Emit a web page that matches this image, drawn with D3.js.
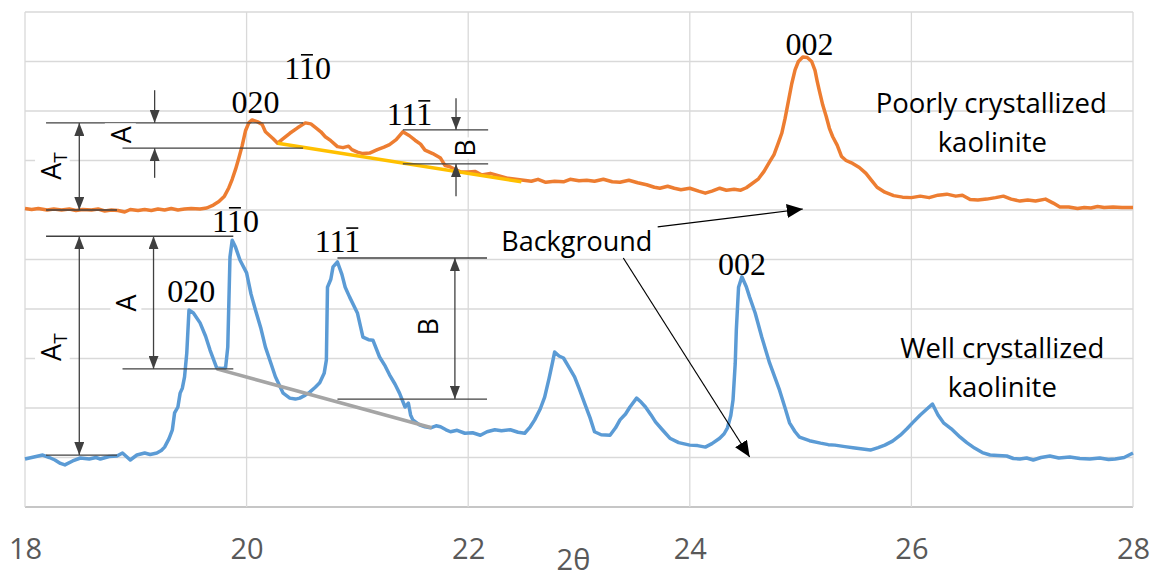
<!DOCTYPE html>
<html>
<head>
<meta charset="utf-8">
<script src="https://cdn.jsdelivr.net/npm/d3@7/dist/d3.min.js"></script>
<style>
body { margin: 0; background: #fff; }
svg { display: block; }
</style>
</head>
<body>
<div id="chart"></div>
<script>
// x ticks (2θ)
var xTicks = [18, 20, 22, 24, 26, 28];
var yGrid = [0, 1, 2, 3, 4, 5, 6, 7, 8, 9, 10];

// poorly crystallized kaolinite [2θ, intensity]
var poorly = [
[18.00,6.03],[18.06,6.01],[18.12,6.03],[18.20,6.00],[18.26,6.02],[18.33,6.00],[18.40,6.02],[18.46,5.99],
[18.52,6.01],[18.60,6.00],[18.66,6.02],[18.72,5.98],[18.78,6.00],[18.84,5.99],[18.90,5.96],[18.95,6.01],
[19.02,5.99],[19.08,6.01],[19.14,5.99],[19.20,6.02],[19.26,6.00],[19.32,6.03],[19.38,6.00],[19.44,6.02],
[19.50,6.03],[19.58,6.02],[19.64,6.04],[19.70,6.10],[19.75,6.17],[19.80,6.28],[19.84,6.45],[19.87,6.62],
[19.90,6.82],[19.93,7.05],[19.96,7.30],[19.99,7.60],[20.02,7.76],[20.05,7.82],[20.10,7.78],[20.14,7.73],
[20.17,7.58],[20.21,7.50],[20.24,7.44],[20.28,7.35],[20.33,7.44],[20.39,7.55],[20.46,7.66],[20.53,7.76],
[20.58,7.74],[20.62,7.67],[20.67,7.58],[20.71,7.48],[20.76,7.40],[20.82,7.28],[20.87,7.26],[20.92,7.29],
[20.95,7.22],[21.00,7.17],[21.05,7.14],[21.11,7.15],[21.18,7.22],[21.24,7.27],[21.29,7.32],[21.35,7.42],
[21.41,7.58],[21.47,7.50],[21.52,7.41],[21.57,7.33],[21.61,7.21],[21.68,7.14],[21.75,7.05],[21.79,6.90],
[21.83,6.88],[21.88,6.82],[21.93,6.77],[22.00,6.77],[22.06,6.78],[22.12,6.71],[22.20,6.74],[22.28,6.69],
[22.36,6.64],[22.43,6.62],[22.50,6.60],[22.57,6.58],[22.63,6.62],[22.70,6.56],[22.78,6.58],[22.86,6.57],
[22.92,6.62],[23.00,6.59],[23.07,6.60],[23.14,6.58],[23.22,6.62],[23.30,6.57],[23.37,6.56],[23.45,6.60],
[23.53,6.55],[23.61,6.51],[23.68,6.46],[23.73,6.44],[23.80,6.48],[23.86,6.44],[23.92,6.41],[24.00,6.44],
[24.08,6.38],[24.14,6.34],[24.20,6.38],[24.27,6.44],[24.33,6.40],[24.40,6.42],[24.46,6.40],[24.51,6.45],
[24.56,6.53],[24.62,6.63],[24.67,6.78],[24.72,6.97],[24.76,7.12],[24.80,7.36],[24.83,7.55],[24.86,7.85],
[24.89,8.20],[24.92,8.55],[24.95,8.83],[24.98,9.00],[25.02,9.09],[25.06,9.08],[25.10,9.00],[25.13,8.82],
[25.15,8.60],[25.17,8.40],[25.20,8.12],[25.23,7.90],[25.26,7.65],[25.29,7.48],[25.33,7.31],[25.37,7.08],
[25.41,7.00],[25.47,6.94],[25.53,6.86],[25.59,6.74],[25.64,6.60],[25.69,6.46],[25.76,6.36],[25.84,6.29],
[25.92,6.26],[26.00,6.25],[26.08,6.28],[26.16,6.25],[26.24,6.30],[26.32,6.32],[26.40,6.28],[26.46,6.30],
[26.53,6.21],[26.60,6.20],[26.68,6.22],[26.76,6.25],[26.83,6.28],[26.90,6.22],[26.98,6.18],[27.05,6.20],
[27.12,6.18],[27.21,6.22],[27.28,6.14],[27.34,6.06],[27.42,6.06],[27.50,6.03],[27.56,6.05],[27.62,6.04],
[27.68,6.07],[27.74,6.05],[27.82,6.06],[27.90,6.05],[28.00,6.05]
];

// well crystallized kaolinite [2θ, intensity]
var well = [
[18.00,0.97],[18.08,1.01],[18.16,1.05],[18.22,1.00],[18.27,0.95],[18.32,0.88],[18.36,0.85],[18.43,0.93],
[18.50,0.99],[18.58,0.97],[18.64,1.00],[18.68,0.97],[18.76,1.02],[18.83,1.03],[18.88,1.09],[18.92,1.01],
[18.95,0.95],[19.01,1.05],[19.08,1.09],[19.13,1.06],[19.19,1.09],[19.23,1.14],[19.26,1.21],[19.30,1.38],
[19.33,1.56],[19.35,1.90],[19.38,2.02],[19.40,2.30],[19.42,2.40],[19.44,2.63],[19.46,3.11],[19.48,3.98],
[19.52,3.92],[19.58,3.72],[19.63,3.45],[19.67,3.17],[19.73,2.81],[19.78,2.80],[19.81,2.81],[19.83,3.23],
[19.85,5.05],[19.87,5.39],[19.90,5.25],[19.94,4.99],[20.00,4.73],[20.04,4.30],[20.08,3.98],[20.13,3.60],
[20.17,3.23],[20.22,2.90],[20.26,2.63],[20.33,2.30],[20.39,2.20],[20.44,2.18],[20.48,2.20],[20.53,2.26],
[20.57,2.32],[20.62,2.42],[20.66,2.51],[20.70,2.70],[20.72,2.97],[20.73,4.44],[20.76,4.60],[20.78,4.85],
[20.82,4.95],[20.86,4.70],[20.89,4.44],[20.93,4.24],[21.00,3.92],[21.05,3.43],[21.10,3.38],[21.14,3.37],
[21.20,3.03],[21.25,2.85],[21.29,2.67],[21.34,2.48],[21.38,2.30],[21.43,2.02],[21.46,2.10],[21.48,1.86],
[21.50,1.76],[21.56,1.66],[21.61,1.62],[21.66,1.60],[21.71,1.64],[21.75,1.62],[21.80,1.56],[21.84,1.52],
[21.90,1.55],[21.97,1.49],[22.04,1.50],[22.11,1.45],[22.17,1.52],[22.24,1.56],[22.30,1.54],[22.38,1.56],
[22.45,1.51],[22.51,1.49],[22.56,1.62],[22.60,1.76],[22.65,1.98],[22.69,2.22],[22.73,2.60],[22.76,2.91],
[22.78,3.13],[22.82,3.05],[22.86,3.01],[22.91,2.82],[22.96,2.63],[23.00,2.40],[23.05,2.10],[23.10,1.80],
[23.14,1.52],[23.20,1.46],[23.28,1.45],[23.33,1.60],[23.37,1.76],[23.42,1.88],[23.46,2.02],[23.52,2.20],
[23.56,2.12],[23.60,2.02],[23.65,1.86],[23.69,1.72],[23.76,1.54],[23.82,1.39],[23.90,1.30],[24.00,1.25],
[24.07,1.24],[24.14,1.21],[24.20,1.28],[24.27,1.39],[24.31,1.48],[24.34,1.60],[24.37,1.85],[24.39,2.16],
[24.41,2.90],[24.42,3.58],[24.44,4.44],[24.47,4.65],[24.51,4.45],[24.54,4.24],[24.59,3.92],[24.65,3.43],
[24.72,2.91],[24.81,2.36],[24.86,2.00],[24.90,1.70],[24.95,1.52],[24.99,1.41],[25.08,1.34],[25.18,1.29],
[25.25,1.26],[25.31,1.25],[25.40,1.22],[25.49,1.19],[25.56,1.17],[25.63,1.15],[25.70,1.20],[25.76,1.25],
[25.83,1.33],[25.90,1.45],[25.96,1.58],[26.01,1.70],[26.08,1.86],[26.14,1.98],[26.19,2.08],[26.24,1.86],
[26.29,1.70],[26.36,1.58],[26.44,1.41],[26.50,1.30],[26.57,1.19],[26.64,1.10],[26.71,1.05],[26.78,1.04],
[26.86,1.03],[26.92,0.98],[26.98,0.97],[27.04,0.99],[27.10,0.95],[27.17,1.00],[27.25,1.03],[27.33,0.99],
[27.43,1.01],[27.52,0.98],[27.61,0.97],[27.70,0.99],[27.78,0.96],[27.84,0.97],[27.92,1.00],[28.00,1.09]
];

// dimension reference lines [x1, x2, level]
var refLines = [
  [18.19, 20.51, 7.76], [18.88, 20.51, 7.25], [18.19, 18.83, 6.00],
  [21.41, 22.18, 7.62], [21.41, 22.18, 6.93],
  [18.19, 19.88, 5.47], [18.88, 19.88, 2.79], [18.19, 18.83, 1.05],
  [20.82, 22.17, 5.03], [20.82, 22.17, 2.18]
];
// double headed arrows [x, from, to]
var dimArrows = [[18.49, 7.76, 6.00], [18.49, 5.47, 1.05], [19.16, 5.47, 2.79], [21.88, 5.03, 2.18]];
// single arrows pointing at a line [x, from, to]
var pointers = [[19.17, 8.42, 7.76], [19.17, 6.65, 7.25], [21.89, 8.26, 7.62], [21.89, 6.28, 6.93]];
// background baselines under the 02l bands
var yellowBase = [[20.28, 7.35], [22.48, 6.57]];
var grayBase = [[19.73, 2.79], [21.67, 1.60]];
// "Background" pointers
var bgArrows = [[[23.71, 5.66], [25.02, 6.02]], [[23.40, 5.03], [24.54, 1.01]]];
// hkl labels [text, index of barred digit, x, baseline]
var hkl = [
  ["020", -1, 20.08, 7.96], ["110", 1, 20.55, 8.65], ["111", 2, 21.47, 7.72], ["002", -1, 25.08, 9.13],
  ["110", 1, 19.90, 5.56], ["020", -1, 19.50, 4.14], ["111", 2, 20.82, 5.15], ["002", -1, 24.47, 4.69]
];
// rotated dimension labels [text, subscript, x, y centre]
var dimLabels = [
  ["A", "T", 18.24, 6.89], ["A", "", 18.87, 7.52], ["B", "", 21.98, 7.25],
  ["A", "T", 18.24, 3.23], ["A", "", 18.92, 4.12], ["B", "", 21.64, 3.64]
];
var seriesLabels = [
  ["Poorly crystallized", 26.72, 7.96], ["kaolinite", 26.73, 7.17],
  ["Well crystallized", 26.82, 3.01], ["kaolinite", 26.82, 2.22]
];
var bgLabel = ["Background", 22.98, 5.17];

var W = 1156, H = 577,
margin = {top: 12, right: 23, bottom: 70, left: 25};

var svg = d3.select("#chart").append("svg")
  .attr("width", W).attr("height", H);

var x = d3.scaleLinear().domain([18, 28]).range([margin.left, W - margin.right]);
var y = d3.scaleLinear().domain([0, 10]).range([H - margin.bottom, margin.top]);

var defs = svg.append("defs");
function marker(id, color, len, wid) {
  defs.append("marker")
    .attr("id", id)
    .attr("markerUnits", "userSpaceOnUse")
    .attr("viewBox", "0 0 " + len + " " + wid)
    .attr("refX", len).attr("refY", wid / 2)
    .attr("markerWidth", len).attr("markerHeight", wid)
    .attr("orient", "auto-start-reverse")
    .append("path")
    .attr("d", "M0,0L" + len + "," + (wid / 2) + "L0," + wid + "Z")
    .attr("fill", color);
}
marker("gh", "#404040", 13, 10);
marker("bh", "#000", 16, 14);

// grid
svg.append("g")
  .selectAll("line").data(yGrid).enter().append("line")
  .attr("x1", x(18)).attr("x2", x(28))
  .attr("y1", d => y(d)).attr("y2", d => y(d))
  .attr("stroke", d => d === 0 ? "#c6c6c6" : "#d9d9d9")
  .attr("stroke-width", d => d === 0 ? 2 : 1.3);

svg.append("g")
  .selectAll("line").data(xTicks).enter().append("line")
  .attr("x1", d => x(d)).attr("x2", d => x(d))
  .attr("y1", y(0)).attr("y2", y(10))
  .attr("stroke", "#d9d9d9").attr("stroke-width", 1.3);

// x axis labels
var xAxis = g => g
  .attr("transform", `translate(0,${y(0)})`)
  .call(d3.axisBottom(x).tickValues(xTicks).tickSize(0).tickPadding(31).tickFormat(d3.format("d")))
  .call(g => g.select(".domain").remove())
  .call(g => g.selectAll("text")
    .attr("fill", "#595959")
    .attr("font-family", "'Open Sans', sans-serif")
    .attr("font-size", 29));
svg.append("g").call(xAxis);

svg.append("text")
  .attr("x", x(22.95)).attr("y", 570)
  .attr("text-anchor", "middle")
  .attr("fill", "#595959")
  .attr("font-family", "'Open Sans', sans-serif")
  .attr("font-size", 29)
  .text("2θ");

// series
var line = d3.line().x(d => x(d[0])).y(d => y(d[1]));
svg.append("path").datum(poorly)
  .attr("d", line).attr("fill", "none")
  .attr("stroke", "#ed7d31").attr("stroke-width", 3.5).attr("stroke-linejoin", "round");
svg.append("path").datum(well)
  .attr("d", line).attr("fill", "none")
  .attr("stroke", "#5b9bd5").attr("stroke-width", 3.5).attr("stroke-linejoin", "round");

svg.append("path").datum(yellowBase).attr("d", line)
  .attr("stroke", "#ffc000").attr("stroke-width", 3.5);
svg.append("path").datum(grayBase).attr("d", line)
  .attr("stroke", "#a5a5a5").attr("stroke-width", 3.5);

// dimension lines
var ann = svg.append("g").attr("stroke", "#404040").attr("stroke-width", 1.3);
ann.selectAll(".ref").data(refLines).enter().append("line")
  .attr("x1", d => x(d[0])).attr("x2", d => x(d[1]))
  .attr("y1", d => y(d[2])).attr("y2", d => y(d[2]));

// rotated labels with white boxes
var dl = svg.append("g").selectAll("g").data(dimLabels).enter().append("g")
  .attr("transform", d => `translate(${x(d[2])},${y(d[3])}) rotate(-90)`);
dl.append("rect").attr("fill", "#fff");
dl.append("text")
  .attr("text-anchor", "middle").attr("dy", "0.35em")
  .attr("font-family", "'Open Sans', sans-serif").attr("font-size", 27).attr("fill", "#000")
  .each(function(d) {
    var t = d3.select(this);
    t.append("tspan").text(d[0]);
    if (d[1]) t.append("tspan").attr("font-size", 19).attr("dy", "0.3em").text(d[1]);
  });
dl.each(function() {
  var g = d3.select(this), b = g.select("text").node().getBBox();
  g.select("rect").attr("x", b.x - 2).attr("y", b.y + 3).attr("width", b.width + 4).attr("height", b.height - 6);
});

ann = svg.append("g").attr("stroke", "#404040").attr("stroke-width", 1.3);
ann.selectAll(".dim").data(dimArrows).enter().append("line")
  .attr("x1", d => x(d[0])).attr("x2", d => x(d[0]))
  .attr("y1", d => y(d[1])).attr("y2", d => y(d[2]))
  .attr("marker-start", "url(#gh)").attr("marker-end", "url(#gh)");
ann.selectAll(".ptr").data(pointers).enter().append("line")
  .attr("x1", d => x(d[0])).attr("x2", d => x(d[0]))
  .attr("y1", d => y(d[1])).attr("y2", d => y(d[2]))
  .attr("marker-end", "url(#gh)");

// background arrows
svg.append("g").selectAll("line").data(bgArrows).enter().append("line")
  .attr("x1", d => x(d[0][0])).attr("y1", d => y(d[0][1]))
  .attr("x2", d => x(d[1][0])).attr("y2", d => y(d[1][1]))
  .attr("stroke", "#000").attr("stroke-width", 1.2)
  .attr("marker-end", "url(#bh)");

svg.append("text")
  .attr("x", x(bgLabel[1])).attr("y", y(bgLabel[2]))
  .attr("text-anchor", "middle")
  .attr("font-family", "'Open Sans', sans-serif").attr("font-size", 27)
  .text(bgLabel[0]);

// hkl labels with overbars
var hk = svg.append("g").selectAll("g").data(hkl).enter().append("g");
hk.append("text")
  .attr("x", d => x(d[2])).attr("y", d => y(d[3]))
  .attr("text-anchor", "middle")
  .attr("font-family", "'Liberation Serif', 'DejaVu Serif', serif").attr("font-size", 32)
  .attr("fill", "#000")
  .text(d => d[0]);
hk.each(function(d) {
  if (d[1] < 0) return;
  var t = d3.select(this).select("text").node();
  var e = t.getExtentOfChar(d[1]);
  var top = y(d[3]) - 24;
  d3.select(this).append("line")
    .attr("x1", e.x + 2).attr("x2", e.x + e.width - 2)
    .attr("y1", top).attr("y2", top)
    .attr("stroke", "#000").attr("stroke-width", 1.6);
});

svg.append("g").selectAll("text").data(seriesLabels).enter().append("text")
  .attr("x", d => x(d[1])).attr("y", d => y(d[2]))
  .attr("text-anchor", "middle")
  .attr("font-family", "'Open Sans', sans-serif").attr("font-size", 27.5)
  .attr("fill", "#000")
  .text(d => d[0]);
</script>
</body>
</html>
